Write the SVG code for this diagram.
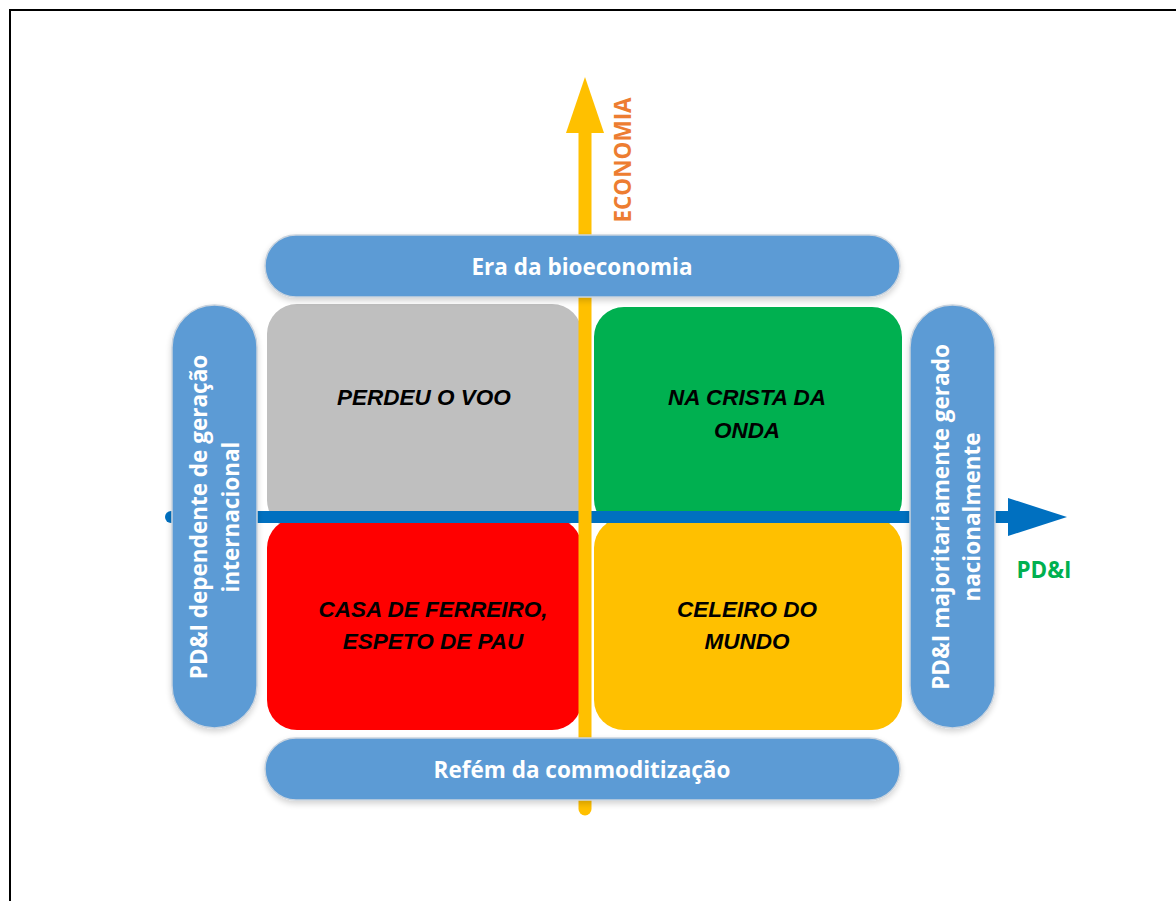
<svg xmlns="http://www.w3.org/2000/svg" width="1176" height="901" viewBox="0 0 1176 901">
  <defs>
    <style>
      .pill { fill: #5B9BD5; stroke: #C9D3DE; stroke-width: 1.5; filter: url(#soft); }
      .pill-text { font-family: "Open Sans", "Liberation Sans", sans-serif; font-weight: bold; font-size: 22.5px; fill: #FFFFFF; text-anchor: middle; dominant-baseline: central; }
      .quad-text { font-family: "Liberation Sans", "Open Sans", sans-serif; font-weight: bold; font-style: italic; font-size: 22.5px; fill: #000000; text-anchor: middle; dominant-baseline: central; }
      .axis-label { font-family: "Open Sans", "Liberation Sans", sans-serif; font-weight: bold; font-size: 22.5px; text-anchor: middle; dominant-baseline: central; }
    </style>
    <filter id="soft" x="-10%" y="-10%" width="120%" height="130%">
      <feGaussianBlur in="SourceAlpha" stdDeviation="3"/>
      <feOffset dx="0" dy="3" result="b"/>
      <feComponentTransfer><feFuncA type="linear" slope="0.18"/></feComponentTransfer>
      <feMerge><feMergeNode/><feMergeNode in="SourceGraphic"/></feMerge>
    </filter>
  </defs>

  <rect width="1176" height="901" fill="#FFFFFF"/>
  <!-- frame: top and left edges -->
  <path d="M10 901 V10 H1176" fill="none" stroke="#000000" stroke-width="2"/>

  <!-- quadrants -->
  <g id="q-perdeu">
    <rect x="267" y="304" width="315" height="226" rx="30" fill="#BFBFBF"/>
    <text class="quad-text" x="424" y="397">PERDEU O VOO</text>
  </g>
  <g id="q-crista">
    <rect x="594" y="307" width="308" height="222" rx="30" fill="#00B050"/>
    <text class="quad-text" x="747" y="397">NA CRISTA DA</text>
    <text class="quad-text" x="747" y="430">ONDA</text>
  </g>
  <g id="q-ferreiro">
    <rect x="267" y="518" width="315" height="212" rx="30" fill="#FF0000"/>
    <text class="quad-text" x="433" y="609">CASA DE FERREIRO,</text>
    <text class="quad-text" x="433" y="641">ESPETO DE PAU</text>
  </g>
  <g id="q-celeiro">
    <rect x="594" y="518" width="308" height="212" rx="30" fill="#FFC000"/>
    <text class="quad-text" x="747" y="609">CELEIRO DO</text>
    <text class="quad-text" x="747" y="641">MUNDO</text>
  </g>

  <!-- axes -->
  <g id="connectors">
    <g id="axis-pdi">
      <path d="M171 517 H1010" stroke="#0070C0" stroke-width="12" stroke-linecap="round" fill="none"/>
      <polygon points="1008,498 1067,517 1008,536" fill="#0070C0"/>
    </g>
    <g id="axis-economia">
      <path d="M585 809 V130" stroke="#FFC000" stroke-width="13" stroke-linecap="round" fill="none"/>
      <polygon points="566,133 585,77 604,133" fill="#FFC000"/>
    </g>
  </g>

  <!-- axis labels -->
  <text class="axis-label" fill="#ED7D31" transform="translate(622 160) rotate(-90)">ECONOMIA</text>
  <text class="axis-label" fill="#00B050" x="1044" y="569">PD&amp;I</text>

  <!-- scenario bands -->
  <g id="band-top">
    <rect class="pill" x="265" y="235" width="635" height="62" rx="31"/>
    <text class="pill-text" x="582" y="266">Era da bioeconomia</text>
  </g>
  <g id="band-bottom">
    <rect class="pill" x="265" y="738" width="635" height="62" rx="31"/>
    <text class="pill-text" x="582" y="769">Refém da commoditização</text>
  </g>
  <g id="band-left">
    <rect class="pill" x="172" y="305" width="85" height="423" rx="42.5"/>
    <g transform="translate(214 517) rotate(-90)">
      <text class="pill-text" x="0" y="-16">PD&amp;I dependente de geração</text>
      <text class="pill-text" x="0" y="16">internacional</text>
    </g>
  </g>
  <g id="band-right">
    <rect class="pill" x="910" y="305" width="85" height="423" rx="42.5"/>
    <g transform="translate(955 517) rotate(-90)">
      <text class="pill-text" x="0" y="-15">PD&amp;I majoritariamente gerado</text>
      <text class="pill-text" x="0" y="16">nacionalmente</text>
    </g>
  </g>
</svg>
